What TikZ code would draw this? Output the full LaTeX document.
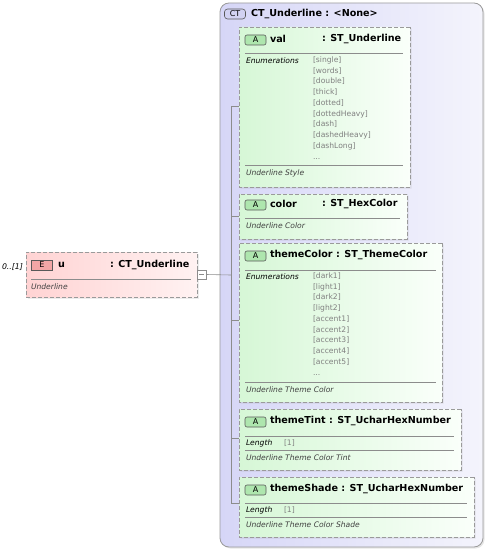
\documentclass[tikz,border=0pt]{standalone}
\usepackage{fontspec}
\setmainfont{DejaVu Sans}
\usetikzlibrary{shapes.misc,shadows}
\definecolor{xsdFrame}{HTML}{9A9A9A}
\definecolor{xsdCtL}{HTML}{D6D6F7}
\definecolor{xsdCtR}{HTML}{F4F4FC}
\definecolor{xsdAttrL}{HTML}{D6F7D6}
\definecolor{xsdAttrR}{HTML}{FAFFFA}
\definecolor{xsdElemL}{HTML}{FFD3D3}
\definecolor{xsdElemR}{HTML}{FFF2F2}
\definecolor{xsdBadgeA}{HTML}{AEE6AE}
\definecolor{xsdBadgeE}{HTML}{F2A6A6}
\definecolor{xsdBadgeCT}{HTML}{D2D2F2}
\definecolor{xsdLine}{HTML}{8C8C8C}
\definecolor{xsdEnum}{HTML}{808080}
\definecolor{xsdNote}{HTML}{404040}

\begin{document}
\begin{tikzpicture}[
    x=1pt,y=-1pt,
    every node/.style={inner sep=0pt,outer sep=0pt},
    ctbox/.style={draw=xsdFrame,line width=0.8pt,rounded corners=9pt,left color=xsdCtL,right color=xsdCtR,
        drop shadow={opacity=0.2,shadow xshift=1.5pt,shadow yshift=-1.5pt}},
    attrbox/.style={chamfered rectangle,chamfered rectangle corners={north west,south west},chamfered rectangle xsep=5pt,
        draw=xsdFrame,dash pattern=on 4pt off 2pt,line width=0.7pt,left color=xsdAttrL,right color=xsdAttrR,
        anchor=north west,drop shadow={opacity=0.15,shadow xshift=1.5pt,shadow yshift=-1.5pt}},
    elembox/.style={draw=xsdFrame,dash pattern=on 4pt off 2pt,line width=0.7pt,left color=xsdElemL,right color=xsdElemR,
        anchor=north west,drop shadow={opacity=0.15,shadow xshift=1.5pt,shadow yshift=-1.5pt}},
    badge/.style={draw=black!65,line width=0.6pt,rounded corners=2pt,minimum width=21pt,minimum height=10pt,font=\fontsize{8}{9}\selectfont},
    hdr/.style={anchor=west,font=\bfseries\fontsize{9.6}{10}\selectfont},
    lbl/.style={anchor=west,font=\itshape\fontsize{7.6}{8}\selectfont},
    enum/.style={anchor=north west,text=xsdEnum,align=left,font=\fontsize{7.6}{10.75}\selectfont},
    note/.style={anchor=west,text=xsdNote,font=\itshape\fontsize{7.6}{8}\selectfont},
    rule/.style={draw=xsdLine,line width=0.6pt},
    link/.style={draw=xsdLine,line width=0.6pt}
]
\useasboundingbox (0,0) rectangle (487,551);

% complex type frame
\node[ctbox,anchor=north west,minimum width=263pt,minimum height=544pt] (ctframe) at (220,3) {};
\node[badge,fill=xsdBadgeCT,rounded corners=3pt] (ctbadge) at (235,14) {CT};
\node[hdr] (cttitle) at (251,14) {CT\_Underline : <None>};

% element u
\node[elembox,minimum width=171pt,minimum height=45pt] (ubox) at (26,252) {};
\node[anchor=east,font=\itshape\fontsize{7.8}{9}\selectfont] (uocc) at (23,267) {0..[1]};
\node[badge,fill=xsdBadgeE,rounded corners=0pt] (ubadge) at (42,265) {E};
\node[hdr] (uname) at (58,265) {u};
\node[hdr] (utype) at (110,265) {: CT\_Underline};
\draw[rule] (31,279) -- (191,279);
\node[note] (unote) at (31,287) {Underline};
\node[draw=xsdLine,fill=white,line width=0.6pt,minimum size=9pt] (ucoll) at (201.5,274.5) {};
\draw[xsdLine,line width=0.6pt] (ucoll.west) ++(2pt,0) -- ++(5pt,0);

% attribute val
\node[attrbox,minimum width=171pt,minimum height=160pt] (valbox) at (239,27) {};
\node[badge,fill=xsdBadgeA] (valbadge) at (255.5,40) {A};
\node[hdr] (valname) at (270,39) {val};
\node[hdr] (valtype) at (322,39) {: ST\_Underline};
\draw[rule] (245,53) -- (403,53);
\node[lbl] (valenumlbl) at (246,61) {Enumerations};
\node[enum] (valenum) at (313,56.5) {[single]\\{[words]}\\{[double]}\\{[thick]}\\{[dotted]}\\{[dottedHeavy]}\\{[dash]}\\{[dashedHeavy]}\\{[dashLong]}\\...};
\draw[rule] (245,165) -- (403,165);
\node[note] (valnote) at (246,173) {Underline Style};

% attribute color
\node[attrbox,minimum width=168pt,minimum height=45pt] (colorbox) at (239,194) {};
\node[badge,fill=xsdBadgeA] (colorbadge) at (255.5,205) {A};
\node[hdr] (colorname) at (270,204) {color};
\node[hdr] (colortype) at (322,204) {: ST\_HexColor};
\draw[rule] (245,218) -- (400,218);
\node[note] (colornote) at (246,226) {Underline Color};

% attribute themeColor
\node[attrbox,minimum width=203pt,minimum height=159pt] (tcbox) at (239,243) {};
\node[badge,fill=xsdBadgeA] (tcbadge) at (255.5,256) {A};
\node[hdr] (tcname) at (270,255) {themeColor : ST\_ThemeColor};
\draw[rule] (245,270) -- (436,270);
\node[lbl] (tcenumlbl) at (246,277) {Enumerations};
\node[enum] (tcenum) at (313,272.5) {[dark1]\\{[light1]}\\{[dark2]}\\{[light2]}\\{[accent1]}\\{[accent2]}\\{[accent3]}\\{[accent4]}\\{[accent5]}\\...};
\draw[rule] (245,382) -- (436,382);
\node[note] (tcnote) at (246,390) {Underline Theme Color};

% attribute themeTint
\node[attrbox,minimum width=222pt,minimum height=61pt] (ttbox) at (239,409) {};
\node[badge,fill=xsdBadgeA] (ttbadge) at (255.5,422) {A};
\node[hdr] (ttname) at (270,421) {themeTint : ST\_UcharHexNumber};
\draw[rule] (245,436) -- (454,436);
\node[lbl] (ttlenlbl) at (246,443) {Length};
\node[anchor=west,text=xsdEnum,font=\fontsize{7.6}{8}\selectfont] (ttlen) at (284,443) {[1]};
\draw[rule] (245,450) -- (454,450);
\node[note] (ttnote) at (246,458) {Underline Theme Color Tint};

% attribute themeShade
\node[attrbox,minimum width=235pt,minimum height=60pt] (tsbox) at (239,477) {};
\node[badge,fill=xsdBadgeA] (tsbadge) at (255.5,490) {A};
\node[hdr] (tsname) at (270,489) {themeShade : ST\_UcharHexNumber};
\draw[rule] (245,503) -- (467,503);
\node[lbl] (tslenlbl) at (246,510) {Length};
\node[anchor=west,text=xsdEnum,font=\fontsize{7.6}{8}\selectfont] (tslen) at (284,510) {[1]};
\draw[rule] (245,517) -- (467,517);
\node[note] (tsnote) at (246,525) {Underline Theme Color Shade};

% tree connectors
\coordinate (hub) at (231,275);
\draw[link] (ucoll.east) -- (hub);
\draw[link] (hub |- 0,106) -- (hub |- 0,503);
\draw[link] (hub |- 0,106) -- (valbox.west |- 0,106);
\draw[link] (hub |- colorbox.west) -- (colorbox.west);
\draw[link] (hub |- 0,320) -- (tcbox.west |- 0,320);
\draw[link] (hub |- 0,438) -- (ttbox.west |- 0,438);
\draw[link] (hub |- 0,503) -- (tsbox.west |- 0,503);
\end{tikzpicture}
\end{document}
